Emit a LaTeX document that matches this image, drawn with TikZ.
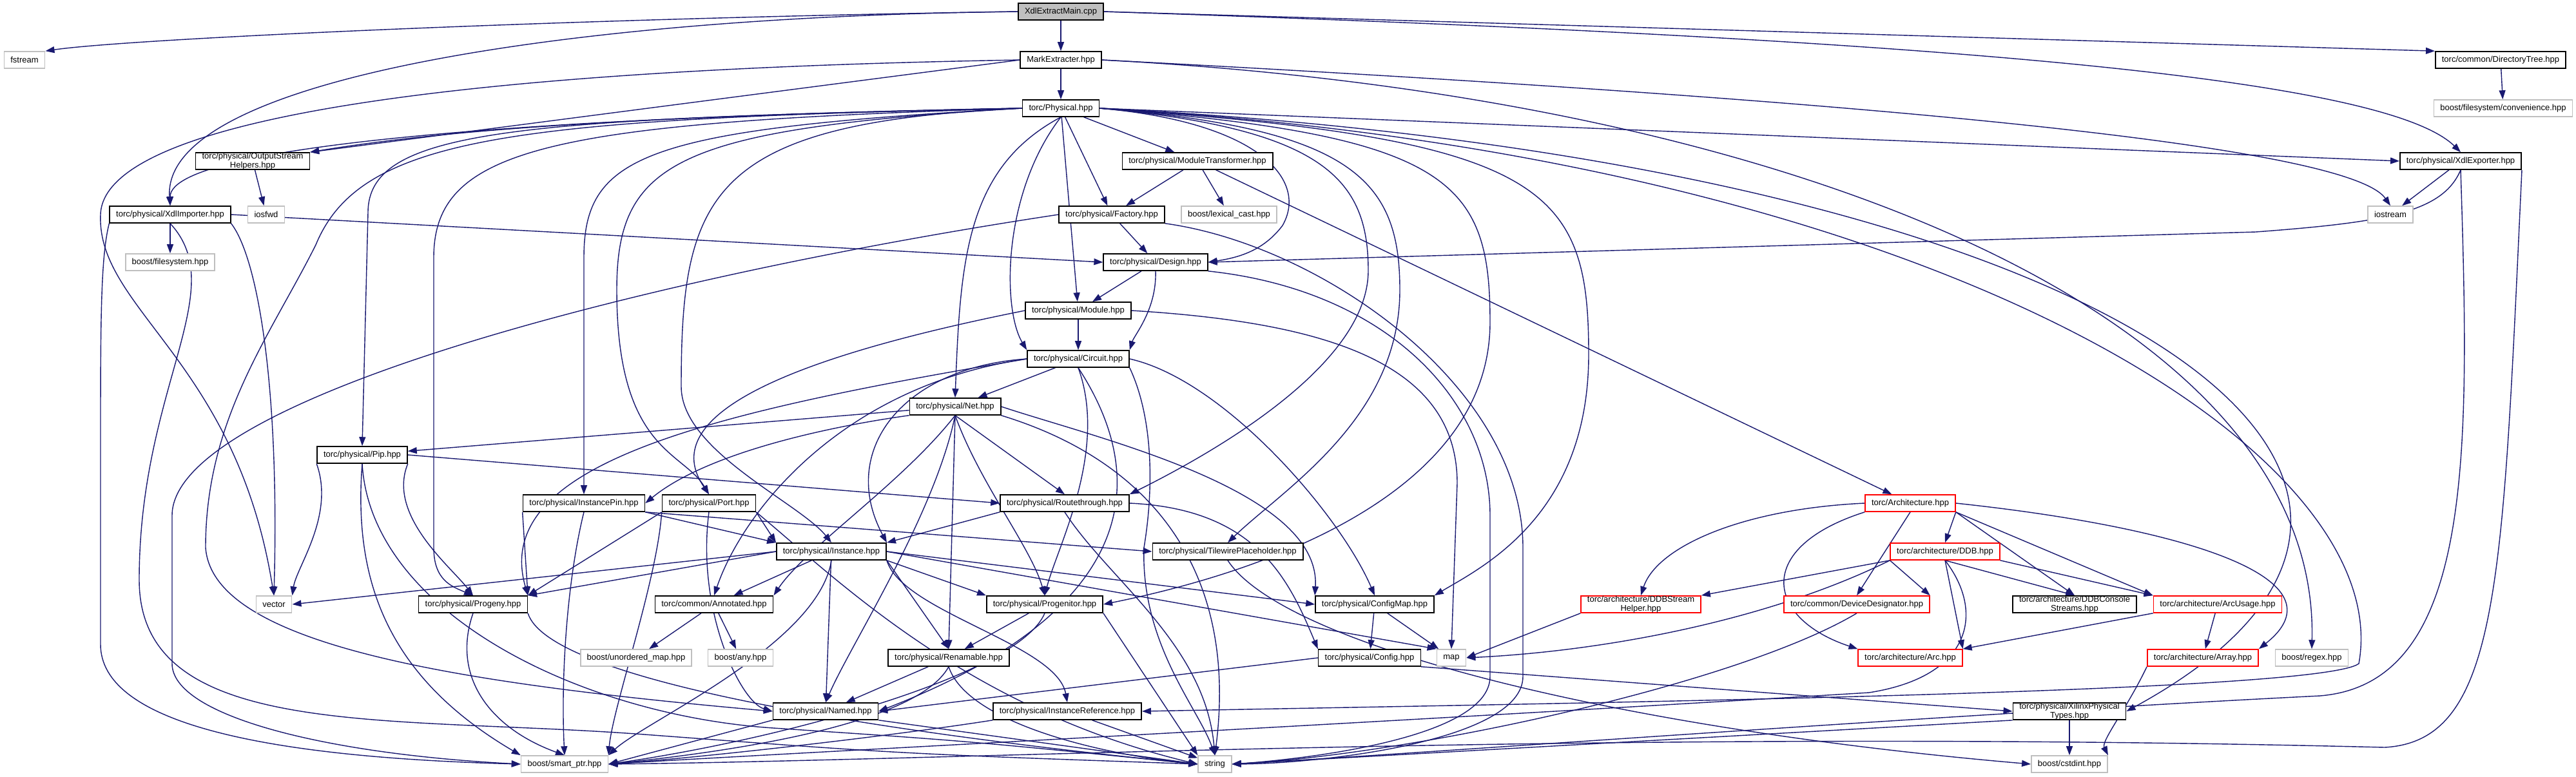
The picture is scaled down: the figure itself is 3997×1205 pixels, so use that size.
\documentclass[tikz,border=0pt]{standalone}
\usepackage{fontspec}
\setmainfont{Liberation Sans}
\usetikzlibrary{arrows.meta}
\definecolor{edgeblue}{HTML}{191970}
\definecolor{sysgray}{HTML}{BFBFBF}
\pgfdeclarelayer{edges}
\pgfsetlayers{edges,main}

\begin{document}
\begin{tikzpicture}[x=0.02cm,y=-0.02cm,
    file/.style={draw=black,fill=white,line width=0.9pt,inner xsep=0.2cm,inner ysep=0pt,
      minimum height=0.52cm,align=center,font=\fontsize{7.4}{8}\selectfont},
    sysfile/.style={file,draw=sysgray},
    redfile/.style={file,draw=red},
    mainfile/.style={file,fill=sysgray},
    dep/.style={draw=edgeblue,line width=0.8pt,-{Triangle[length=0.28cm,width=0.2cm]}}]

\useasboundingbox (0,0) rectangle (3997,1205);

\node[mainfile] (main) at (1646,18) {XdlExtractMain.cpp};
\node[sysfile] (fstream) at (38,93) {fstream};
\node[file] (mark) at (1646,93) {MarkExtracter.hpp};
\node[file] (dirtree) at (3880,93) {torc/common/DirectoryTree.hpp};
\node[file] (phys) at (1646,168) {torc/Physical.hpp};
\node[sysfile] (conv) at (3884,168) {boost/filesystem/convenience.hpp};
\node[file] (osh) at (392,250) {torc/physical/OutputStream\\Helpers.hpp};
\node[file] (modtr) at (1858,250) {torc/physical/ModuleTransformer.hpp};
\node[file] (xexp) at (3818,250) {torc/physical/XdlExporter.hpp};
\node[file] (ximp) at (264,333) {torc/physical/XdlImporter.hpp};
\node[sysfile] (iosfwd) at (413,333) {iosfwd};
\node[file] (factory) at (1725,333) {torc/physical/Factory.hpp};
\node[sysfile] (lexcast) at (1907,333) {boost/lexical\_cast.hpp};
\node[sysfile] (iostream) at (3709,333) {iostream};
\node[sysfile] (bfs) at (264,407) {boost/filesystem.hpp};
\node[file] (design) at (1793,407) {torc/physical/Design.hpp};
\node[file] (module) at (1673,482) {torc/physical/Module.hpp};
\node[file] (circuit) at (1673,557) {torc/physical/Circuit.hpp};
\node[file] (net) at (1482,631) {torc/physical/Net.hpp};
\node[file] (pip) at (562,706) {torc/physical/Pip.hpp};
\node[file] (ipin) at (906,781) {torc/physical/InstancePin.hpp};
\node[file] (port) at (1100,781) {torc/physical/Port.hpp};
\node[file] (rthru) at (1652,781) {torc/physical/Routethrough.hpp};
\node[redfile] (arch) at (2964,781) {torc/Architecture.hpp};
\node[file] (inst) at (1290,856) {torc/physical/Instance.hpp};
\node[file] (twp) at (1905,856) {torc/physical/TilewirePlaceholder.hpp};
\node[redfile] (ddb) at (3018,856) {torc/architecture/DDB.hpp};
\node[file] (annot) at (1108,938) {torc/common/Annotated.hpp};
\node[file] (progeny) at (734,938) {torc/physical/Progeny.hpp};
\node[sysfile] (vector) at (425,938) {vector};
\node[file] (progenitor) at (1621,938) {torc/physical/Progenitor.hpp};
\node[file] (cfgmap) at (2133,938) {torc/physical/ConfigMap.hpp};
\node[redfile] (ddbsh) at (2546,938) {torc/architecture/DDBStream\\Helper.hpp};
\node[redfile] (devdes) at (2881,938) {torc/common/DeviceDesignator.hpp};
\node[file] (ddbcs) at (3219,938) {torc/architecture/DDBConsole\\Streams.hpp};
\node[redfile] (arcusage) at (3441,938) {torc/architecture/ArcUsage.hpp};
\node[sysfile] (umap) at (987,1021) {boost/unordered\_map.hpp};
\node[sysfile] (any) at (1149,1021) {boost/any.hpp};
\node[file] (renam) at (1472,1021) {torc/physical/Renamable.hpp};
\node[file] (config) at (2125,1021) {torc/physical/Config.hpp};
\node[sysfile] (map) at (2252,1021) {map};
\node[redfile] (arc) at (2964,1021) {torc/architecture/Arc.hpp};
\node[redfile] (array) at (3418,1021) {torc/architecture/Array.hpp};
\node[sysfile] (regex) at (3587,1021) {boost/regex.hpp};
\node[file] (named) at (1281,1104) {torc/physical/Named.hpp};
\node[file] (iref) at (1656,1104) {torc/physical/InstanceReference.hpp};
\node[file] (xpt) at (3211,1104) {torc/physical/XilinxPhysical\\Types.hpp};
\node[sysfile] (smartptr) at (876,1186) {boost/smart\_ptr.hpp};
\node[sysfile] (string) at (1885,1186) {string};
\node[sysfile] (cstdint) at (3211,1186) {boost/cstdint.hpp};

\begin{pgfonlayer}{edges}
\draw[dep] (main.west) .. controls (900,28) and (200,60) .. (fstream.north east);
\draw[dep] (main.west) .. controls (900,25) and (250,120) .. (ximp.north);
\draw[dep] (main) -- (mark);
\draw[dep] (main.east) -- (dirtree.north west);
\draw[dep] (main.east) .. controls (3000,60) and (3700,120) .. (xexp.north);

\draw[dep] (dirtree) -- (conv);

\draw[dep] (mark) -- (phys);
\draw[dep] (mark.west) -- (osh.north east);
\draw[dep] (mark.west) .. controls (600,110) and (160,200) .. (156,333) .. controls (150,480) and (367,560) .. (vector.north);
\draw[dep] (mark.east) .. controls (2800,150) and (3640,220) .. (iostream.north);
\draw[dep] (mark.east) .. controls (2800,150) and (3600,500) .. (regex.north);

\draw[dep] (phys) -- (factory);
\draw[dep] (phys) -- (modtr);
\draw[dep] (phys) -- (module);
\draw[dep] (phys.south) .. controls (1555,300) and (1555,480) .. (circuit.north west);
\draw[dep] (phys.south) .. controls (1500,260) and (1490,400) .. (net.north);
\draw[dep] (phys.east) .. controls (1955,190) and (2030,280) .. (1990,350) .. controls (1960,390) and (1920,400) .. (design.east);
\draw[dep] (phys.west) .. controls (900,180) and (264,220) .. (ximp.north);
\draw[dep] (phys.west) .. controls (1000,180) and (700,200) .. (osh.north east);
\draw[dep] (phys.west) .. controls (800,185) and (571,200) .. (571,330) -- (pip.north);
\draw[dep] (phys.west) .. controls (850,190) and (673,230) .. (673,400) -- (673,850) .. controls (673,900) and (700,910) .. (progeny.north);
\draw[dep] (phys.west) .. controls (1000,200) and (906,240) .. (906,400) -- (ipin.north);
\draw[dep] (phys.west) .. controls (1050,200) and (957,250) .. (957,450) .. controls (957,700) and (1060,700) .. (port.north);
\draw[dep] (phys.west) .. controls (1100,190) and (1057,300) .. (1057,600) .. controls (1057,700) and (1240,780) .. (inst.north);
\draw[dep] (phys.west) .. controls (800,185) and (560,210) .. (490,380) .. controls (420,520) and (319,650) .. (319,850) .. controls (330,1000) and (700,1060) .. (named.west);
\draw[dep] (phys.east) -- (xexp.west);
\draw[dep] (phys.east) .. controls (3300,250) and (3950,750) .. (xpt.east);
\draw[dep] (phys.east) .. controls (3000,240) and (3720,700) .. (3660,1030) .. controls (3600,1075) and (2500,1090) .. (iref.east);
\draw[dep] (phys.east) .. controls (2057,200) and (2123,280) .. (2123,420) .. controls (2123,560) and (1904,692) .. (rthru.north east);
\draw[dep] (phys.east) .. controls (2100,200) and (2172,280) .. (2172,450) .. controls (2172,650) and (1990,760) .. (twp.north);
\draw[dep] (phys.east) .. controls (2250,210) and (2312,280) .. (2312,500) .. controls (2312,750) and (2000,880) .. (progenitor.east);
\draw[dep] (phys.east) .. controls (2400,215) and (2465,290) .. (2465,550) .. controls (2465,800) and (2300,880) .. (cfgmap.north east);

\draw[dep] (osh) -- (iosfwd);

\draw[dep] (modtr) -- (factory);
\draw[dep] (modtr) -- (lexcast);
\draw[dep] (modtr) -- (arch);

\draw[dep] (factory) -- (design);
\draw[dep] (factory.west) .. controls (1000,430) and (267,620) .. (267,800) -- (267,1030) .. controls (267,1110) and (500,1170) .. (smartptr.west);
\draw[dep] (factory.south east) .. controls (2050,380) and (2363,600) .. (2363,850) -- (2363,1050) .. controls (2363,1150) and (2050,1185) .. (string.east);

\draw[dep] (design) -- (module);
\draw[dep] (design.south) .. controls (1795,480) and (1760,520) .. (circuit.north east);
\draw[dep] (design.south east) .. controls (2150,450) and (2312,620) .. (2312,800) -- (2312,1050) .. controls (2312,1150) and (2000,1180) .. (string.east);

\draw[dep] (module) -- (circuit);
\draw[dep] (module.west) .. controls (1200,560) and (1020,650) .. (port.north);
\draw[dep] (module.east) .. controls (2050,500) and (2261,560) .. (2261,750) -- (map.north);

\draw[dep] (circuit) -- (net);
\draw[dep] (circuit.west) .. controls (1100,640) and (760,720) .. (progeny.north east);
\draw[dep] (circuit.west) .. controls (1300,600) and (1150,800) .. (annot.north);
\draw[dep] (circuit.west) .. controls (1400,570) and (1300,700) .. (inst.north east);
\draw[dep] (circuit.south) .. controls (1720,700) and (1640,850) .. (progenitor.north);
\draw[dep] (circuit.south) .. controls (1790,750) and (1760,950) .. (named.east);
\draw[dep] (circuit.south east) .. controls (1790,650) and (1790,760) .. (1775,850) .. controls (1770,1000) and (1860,1100) .. (string.north);
\draw[dep] (circuit.east) .. controls (1900,590) and (2080,800) .. (cfgmap.north);

\draw[dep] (net) -- (pip);
\draw[dep] (net.south west) .. controls (1300,660) and (1100,700) .. (ipin.east);
\draw[dep] (net.south) .. controls (1400,750) and (1250,850) .. (annot.north east);
\draw[dep] (net.south) .. controls (1450,800) and (1320,1000) .. (named.north);
\draw[dep] (net.south) -- (renam.north);
\draw[dep] (net.south) .. controls (1520,750) and (1600,850) .. (progenitor.north);
\draw[dep] (net.south) -- (rthru.north);
\draw[dep] (net.east) .. controls (1700,680) and (2050,760) .. (cfgmap.north west);
\draw[dep] (net.south east) .. controls (1800,720) and (1920,900) .. (string.north);

\draw[dep] (pip.east) -- (rthru.west);
\draw[dep] (pip.south west) .. controls (520,800) and (460,880) .. (vector.north east);
\draw[dep] (pip.south) .. controls (548,900) and (600,1050) .. (smartptr.north west);
\draw[dep] (pip.south) .. controls (575,950) and (900,1110) .. (1200,1130) .. controls (1500,1150) .. (string.west);
\draw[dep] (pip.south east) .. controls (600,800) and (700,880) .. (progeny.north);

\draw[dep] (ipin.south east) -- (inst.north west);
\draw[dep] (ipin.south west) -- (progeny.north east);
\draw[dep] (ipin.south) .. controls (880,900) and (870,1050) .. (smartptr.north);
\draw[dep] (ipin.south east) -- (twp.west);

\draw[dep] (port.south east) -- (inst.north west);
\draw[dep] (port.south west) -- (progeny.north east);
\draw[dep] (port.south) .. controls (1080,950) and (1150,1090) .. (named.west);
\draw[dep] (port.south west) .. controls (1020,900) and (950,1100) .. (smartptr.north east);
\draw[dep] (port.south east) .. controls (1300,900) and (1500,1100) .. (string.west);

\draw[dep] (rthru.south west) -- (inst.north east);
\draw[dep] (rthru.south) .. controls (1720,900) and (1870,1000) .. (string.north);
\draw[dep] (rthru.east) .. controls (1950,790) and (2000,900) .. (config.north west);

\draw[dep] (inst) -- (annot);
\draw[dep] (inst.west) -- (progeny.north east);
\draw[dep] (inst.west) -- (vector.east);
\draw[dep] (inst) -- (named);
\draw[dep] (inst.south east) -- (renam.north);
\draw[dep] (inst.south east) .. controls (1400,950) and (1640,1000) .. (iref.north);
\draw[dep] (inst.south east) -- (progenitor.north west);
\draw[dep] (inst.south) .. controls (1270,1000) and (1000,1120) .. (smartptr.north east);
\draw[dep] (inst.east) -- (cfgmap.west);
\draw[dep] (inst.east) -- (map.north west);

\draw[dep] (twp.south) .. controls (1990,1000) and (2500,1130) .. (cstdint.west);

\draw[dep] (annot) -- (umap);
\draw[dep] (annot) -- (any);

\draw[dep] (progenitor) -- (renam);
\draw[dep] (progenitor.south) .. controls (1580,1050) and (1200,1150) .. (smartptr.east);
\draw[dep] (progenitor.south east) -- (string.north west);

\draw[dep] (progeny.south) .. controls (700,1050) and (760,1130) .. (smartptr.north);
\draw[dep] (progeny.south east) .. controls (850,1050) and (1300,1130) .. (string.west);

\draw[dep] (cfgmap) -- (config);
\draw[dep] (cfgmap) -- (map);

\draw[dep] (config.west) -- (named.east);
\draw[dep] (config.south east) -- (xpt.west);

\draw[dep] (renam) -- (named);
\draw[dep] (renam.south) .. controls (1420,1130) and (1100,1170) .. (smartptr.east);
\draw[dep] (renam.south) .. controls (1500,1120) and (1700,1170) .. (string.west);

\draw[dep] (named.south west) -- (smartptr.east);
\draw[dep] (named.south east) -- (string.west);

\draw[dep] (iref.south west) .. controls (1400,1140) and (1100,1175) .. (smartptr.east);
\draw[dep] (iref) -- (string);

\draw[dep] (xpt) -- (cstdint);
\draw[dep] (xpt.south west) -- (string.east);

\draw[dep] (xexp) -- (iostream);
\draw[dep] (xexp.south) .. controls (3790,330) and (3700,345) .. (3500,360) -- (design.east);
\draw[dep] (xexp.south) .. controls (3832,700) and (3840,1060) .. (3600,1080) .. controls (3000,1110) and (2200,1170) .. (string.east);
\draw[dep] (xexp.south east) .. controls (3883,900) and (3880,1150) .. (3700,1160) .. controls (2500,1130) and (1500,1180) .. (smartptr.east);

\draw[dep] (ximp) -- (bfs);
\draw[dep] (ximp.east) -- (design.west);
\draw[dep] (ximp.south east) .. controls (400,400) and (434,600) .. (vector.north);
\draw[dep] (ximp.south) .. controls (360,450) and (216,600) .. (216,900) .. controls (216,1150) and (600,1110) .. (1000,1140) .. controls (1400,1170) .. (string.west);
\draw[dep] (ximp.south west) .. controls (156,400) and (156,500) .. (156,700) -- (156,1000) .. controls (156,1120) and (400,1175) .. (smartptr.west);

\draw[dep] (arch.south east) -- (ddb.north);
\draw[dep] (arch.west) .. controls (2700,790) and (2570,850) .. (ddbsh.north);
\draw[dep] (arch.south) -- (devdes.north);
\draw[dep] (arch.south west) .. controls (2720,850) and (2740,960) .. (arc.north west);
\draw[dep] (arch.south east) -- (ddbcs.north);
\draw[dep] (arch.south east) -- (arcusage.north west);
\draw[dep] (arch.east) .. controls (3400,820) and (3640,900) .. (array.north east);

\draw[dep] (ddb.south west) -- (ddbsh.north east);
\draw[dep] (ddb.south west) .. controls (2750,960) and (2500,1010) .. (map.east);
\draw[dep] (ddb.south west) -- (devdes.north east);
\draw[dep] (ddb.south) -- (arc.north east);
\draw[dep] (ddb.south) -- (ddbcs.north);
\draw[dep] (ddb.south east) -- (arcusage.north west);
\draw[dep] (ddb.south) .. controls (3080,950) and (3060,1050) .. (2900,1075) .. controls (2000,1130) and (1200,1170) .. (smartptr.east);

\draw[dep] (ddbsh.south west) -- (map.east);
\draw[dep] (devdes.south) .. controls (2700,1060) and (2200,1170) .. (string.east);
\draw[dep] (arcusage.south west) -- (arc.north east);
\draw[dep] (arcusage) -- (array);
\draw[dep] (array.south west) .. controls (3300,1100) and (3260,1150) .. (cstdint.north east);
\end{pgfonlayer}
\end{tikzpicture}
\end{document}
